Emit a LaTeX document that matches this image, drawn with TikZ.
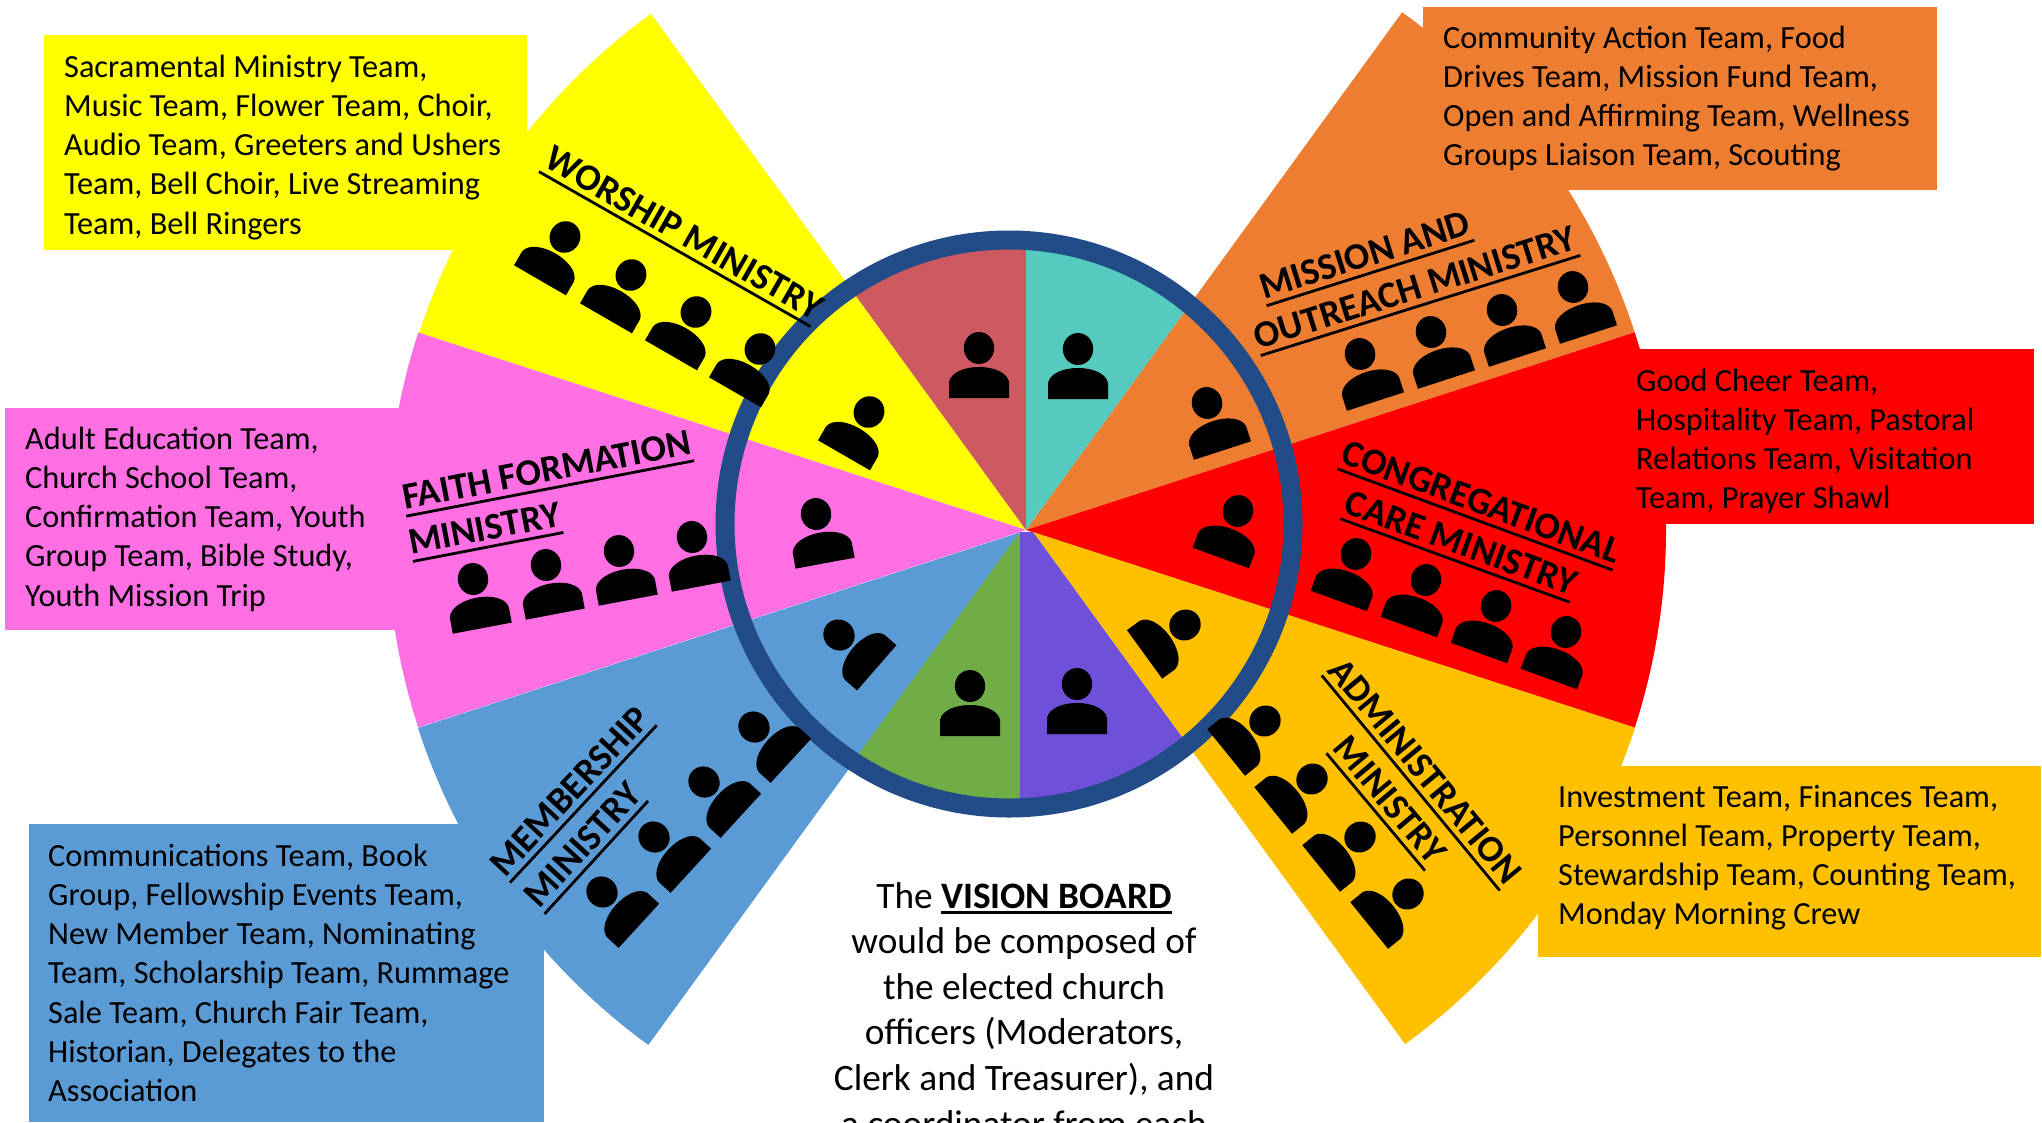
\documentclass[tikz,border=0pt]{standalone}
\usepackage{fontspec}
\setmainfont{Carlito}
\definecolor{cyellow}{HTML}{FFFF00}
\definecolor{cpink}{HTML}{FF6FE4}
\definecolor{cblue}{HTML}{5B9BD5}
\definecolor{corange}{HTML}{ED7D31}
\definecolor{cred}{HTML}{FF0000}
\definecolor{cgold}{HTML}{FFC000}
\definecolor{crose}{HTML}{CD5A60}
\definecolor{cteal}{HTML}{55CBBF}
\definecolor{cgreen}{HTML}{70AD47}
\definecolor{cpurple}{HTML}{6F50D8}
\definecolor{cring}{HTML}{214C88}
\newcommand\sector[6]{\fill[#3] (#1,#2) -- +(#4:#6pt) arc[start angle=#4,end angle=#5,radius=#6pt] -- cycle;}
\newcommand\person[3]{\begin{scope}[shift={(#1,#2)},rotate=#3]
  \fill[black] (0,0) ellipse[x radius=15.2pt,y radius=16pt];
  \fill[black] (-30,50) -- (-30,34) .. controls (-28,24) and (-14,19) .. (0,19) .. controls (14,19) and (28,24) .. (30,34) -- (30,50) -- cycle;
\end{scope}}
\newcommand\ulbox[1]{\vbox{\hbox{#1}\kern5pt\hrule height 2.8pt}}
\newcommand\ulin[1]{\setbox0\hbox{#1}\rlap{\rule[-5.5pt]{\wd0}{2.6pt}}\box0 }
\newcommand\mintitle[5]{\node[titletext,rotate=#4] (#5) at (#1,#2) {\ulbox{#3}};}
\tikzset{
  titletext/.style={anchor=south,inner sep=0pt,font=\fontsize{37.5}{44}\selectfont\bfseries},
  boxtext/.style={anchor=north west,inner sep=0pt,align=left,font=\fontsize{32.3}{39.1}\selectfont},
  boardtext/.style={anchor=north,inner sep=0pt,align=center,font=\fontsize{37.3}{45.6}\selectfont}
}
\begin{document}
\begin{tikzpicture}[x=1pt,y=-1pt]
\useasboundingbox (0,0) rectangle (2042,1122);
\fill[white] (0,0) rectangle (2042,1122);
% outer wedges
\sector{1026}{530}{corange}{18}{54}{640}
\sector{1026}{530}{cred}{-18}{18}{640}
\sector{1033}{532}{cgold}{-54}{-18}{633}
\sector{1026}{530}{cyellow}{126}{162}{638}
\sector{1026}{530}{cpink}{162}{198}{639}
\sector{1021}{532}{cblue}{198}{234}{634}
% inner slices
\begin{scope}
\clip (1009,524) circle[radius=285pt];
\sector{1026}{530}{crose}{90}{126}{700}
\sector{1026}{530}{cteal}{54}{90}{700}
\sector{1020}{532}{cgreen}{234}{270}{700}
\fill[cpurple] (1020,532) -- (1033,532) -- +(-54:500pt) -- (1020,1000) -- cycle;
\end{scope}
\draw[cring,line width=19pt] (1009,524) circle[radius=284pt];
% text boxes
\fill[cyellow] (44,35) rectangle (527,250);
\fill[cpink] (5,408) rectangle (420,630);
\fill[cblue] (29,824) rectangle (544,1122);
\fill[corange] (1423,7) rectangle (1937,190);
\fill[cred] (1620,349) rectangle (2034,524);
\fill[cgold] (1538,766) rectangle (2041,957);
\node[boxtext] (tworship) at (64,55) {Sacramental Ministry Team,\\Music Team, Flower Team, Choir,\\Audio Team, Greeters and Ushers\\Team, Bell Choir, Live Streaming\\Team, Bell Ringers};
\node[boxtext] (tfaith) at (25,427) {Adult Education Team,\\Church School Team,\\Confirmation Team, Youth\\Group Team, Bible Study,\\Youth Mission Trip};
\node[boxtext] (tmember) at (48,844) {Communications Team, Book\\Group, Fellowship Events Team,\\New Member Team, Nominating\\Team, Scholarship Team, Rummage\\Sale Team, Church Fair Team,\\Historian, Delegates to the\\Association};
\node[boxtext] (tmission) at (1443,26) {Community Action Team, Food\\Drives Team, Mission Fund Team,\\Open and Affirming Team, Wellness\\Groups Liaison Team, Scouting};
\node[boxtext] (tcare) at (1636,369) {Good Cheer Team,\\Hospitality Team, Pastoral\\Relations Team, Visitation\\Team, Prayer Shawl};
\node[boxtext] (tadmin) at (1558,785) {Investment Team, Finances Team,\\Personnel Team, Property Team,\\Stewardship Team, Counting Team,\\Monday Morning Crew};
\node[boardtext] (board) at (1024,882) {The \ulin{\bfseries VISION BOARD}\\would be composed of\\the elected church\\officers (Moderators,\\Clerk and Treasurer), and\\a coordinator from each};
% people in the wheel
\person{979}{348}{0}
\person{1078}{349}{0}
\person{1207}{403}{18}
\person{1238}{511}{-20}
\person{1185}{625}{-54}
\person{1077}{684}{0}
\person{970}{686}{0}
\person{839}{635}{49}
\person{816}{514}{10.5}
\person{869}{412}{-30}
% people in the wedges
\person{565}{237}{-30}\person{631}{275}{-30}\person{696}{312}{-30}\person{760}{349}{-30}
\person{473}{579}{10.7}\person{546}{565}{10.7}\person{619}{551}{10.7}\person{692}{537}{10.7}
\person{602}{892}{47.5}\person{654}{837}{47.5}\person{704}{782}{47.5}\person{754}{727}{47.5}
\person{1360}{354}{18}\person{1431}{332}{18}\person{1502}{310}{18}\person{1573}{287}{18}
\person{1356}{554}{-20}\person{1426}{580}{-20}\person{1496}{606}{-20}\person{1566}{632}{-20}
\person{1265}{721}{-51}\person{1312}{779}{-51}\person{1360}{837}{-51}\person{1408}{894}{-51}
% titles
\mintitle{674}{250.5}{WORSHIP MINISTRY}{-29.7}{nworship}
\mintitle{550.5}{490}{FAITH FORMATION}{10.9}{nfaithA}
\mintitle{488.5}{548.5}{MINISTRY}{10.9}{nfaithB}
\mintitle{1371}{274.5}{MISSION AND}{17.5}{nmissionA}
\mintitle{1421}{307}{OUTREACH MINISTRY}{17.4}{nmissionB}
\mintitle{1474.5}{521}{CONGREGATIONAL}{-20.2}{ncareA}
\mintitle{1454.5}{562}{CARE MINISTRY}{-20}{ncareB}
\mintitle{1409.5}{784}{ADMINISTRATION}{-50.4}{nadminA}
\mintitle{1374.5}{813}{MINISTRY}{-50}{nadminB}
\mintitle{584.5}{805}{MEMBERSHIP}{47}{nmemberA}
\mintitle{597.5}{858.5}{MINISTRY}{47.5}{nmemberB}
\end{tikzpicture}
\end{document}
